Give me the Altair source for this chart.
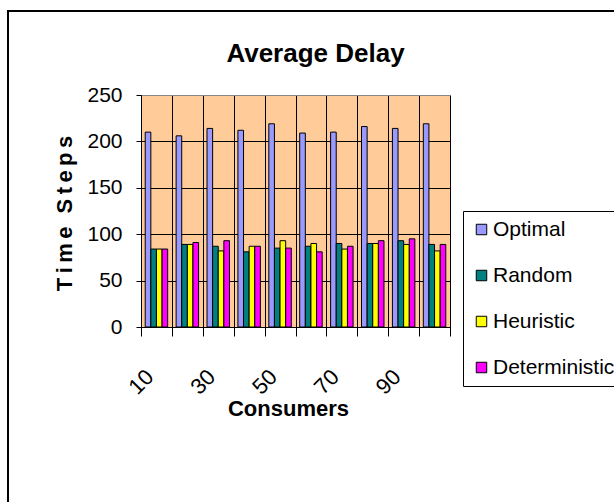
import altair as alt
import pandas as pd

# Categories and series
consumers = ["10", "20", "30", "40", "50", "60", "70", "80", "90", "100"]
shown_labels = ["10", "30", "50", "70", "90"]
series = ["Optimal", "Random", "Heuristic", "Deterministic"]
colors = ["#9999FF", "#008080", "#FFFF00", "#FF00FF"]

# Average delay (time steps) per number of consumers
optimal = [210, 206, 214, 212, 219, 209, 210, 216, 214, 219]
random_ = [84, 89, 87, 81, 85, 87, 90, 90, 93, 89]
heuristic = [84, 89, 82, 87, 93, 90, 84, 90, 89, 82]
deterministic = [84, 91, 93, 87, 85, 81, 87, 93, 95, 89]

y_ticks = [0, 50, 100, 150, 200, 250]

rows = []
for name, vals in zip(series, [optimal, random_, heuristic, deterministic]):
    for c, v in zip(consumers, vals):
        rows.append({"Consumers": c, "Series": name, "Delay": v})
df = pd.DataFrame(rows)

FONT = "Liberation Sans"
label_list = ",".join("'" + s + "'" for s in shown_labels)

bars = alt.Chart(df).mark_bar(stroke="black", strokeWidth=1, strokeOpacity=1).encode(
    x=alt.X(
        "Consumers:N",
        sort=consumers,
        scale=alt.Scale(paddingInner=0, paddingOuter=0),
        axis=alt.Axis(
            title="Consumers",
            tickBand="extent",
            grid=True,
            gridColor="black",
            gridWidth=1,
            domainColor="black",
            tickColor="black",
            tickSize=9,
            labelAngle=-45,
            labelAlign="right",
            labelBaseline="middle",
            labelPadding=37,
            labelOffset=-7,
            labelFontSize=22,
            labelFont=FONT,
            labelColor="black",
            labelOverlap=False,
            labelExpr="indexof([" + label_list + "], datum.label) >= 0 ? datum.label : ''",
            titleFont=FONT,
            titleFontSize=22,
            titleFontWeight="bold",
            titleColor="black",
            titleX=147,
            titleY=81,
            titleBaseline="middle",
        ),
    ),
    xOffset=alt.XOffset(
        "Series:N",
        sort=series,
        scale=alt.Scale(paddingInner=0, paddingOuter=0.75),
    ),
    y=alt.Y(
        "Delay:Q",
        scale=alt.Scale(domain=[0, 250], nice=False),
        axis=alt.Axis(
            title="T\u2009i\u2009m\u2009e\u2009\u2009\u2009S\u2009t\u2009e\u2009p\u2009s",
            values=y_ticks,
            grid=True,
            gridColor={"condition": {"test": "datum.value === 250", "value": "#888888"}, "value": "black"},
            domainColor="black",
            tickColor="black",
            tickSize=5,
            labelFontSize=21,
            labelFont=FONT,
            labelColor="black",
            labelPadding=14,
            titleFont=FONT,
            titleFontSize=22,
            titleFontWeight="bold",
            titleColor="black",
            titleAngle=-90,
            titleX=-77,
            titleY=118,
            titleAlign="center",
            titleBaseline="middle",
        ),
    ),
    fill=alt.Fill(
        "Series:N",
        sort=series,
        scale=alt.Scale(domain=series, range=colors),
        legend=alt.Legend(
            title=None,
            orient="none",
            legendX=322,
            legendY=116,
            strokeColor="black",
            fillColor="white",
            padding=8,
            symbolType="square",
            symbolSize=110,
            symbolStrokeColor="black",
            symbolStrokeWidth=1,
            symbolOpacity=1,
            labelFont=FONT,
            labelFontSize=21,
            labelColor="black",
            labelOffset=1,
            rowPadding=24,
        ),
    ),
)

# Outer chart frame
frame = alt.Chart(alt.Data(values=[{}])).mark_rect(
    fill=None, stroke="black", strokeWidth=2
).encode(
    x=alt.value(-133), x2=alt.value(700), y=alt.value(-84), y2=alt.value(600)
)

chart = alt.layer(frame, bars).properties(
    width=309,
    height=232,
    background="white",
    title=alt.TitleParams(
        "Average Delay", font=FONT, fontSize=26, fontWeight="bold",
        color="black", anchor="middle", frame="group", dx=20,
        baseline="alphabetic", offset=-78,
    ),
    autosize=alt.AutoSizeParams(type="none"),
    padding={"left": 141, "top": 95, "right": 164, "bottom": 175},
).configure_view(
    fill="#FFCC99", stroke="#888888", strokeWidth=1
)

chart.save("out.html", embed_options={"renderer": "svg", "actions": False})
